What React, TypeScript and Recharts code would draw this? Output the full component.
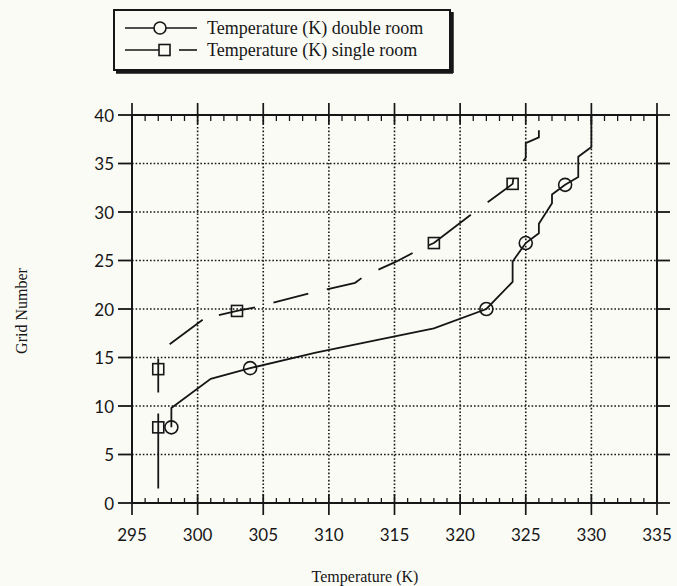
import React from 'react';
import { LineChart, Line, XAxis, YAxis, ReferenceLine, Legend } from 'recharts';

// ---- axes ----
const xTicks = [295, 296, 297, 298, 299, 300, 301, 302, 303, 304, 305, 306, 307, 308, 309, 310, 311, 312, 313, 314, 315, 316, 317, 318, 319, 320, 321, 322, 323, 324, 325, 326, 327, 328, 329, 330, 331, 332, 333, 334, 335];
const xMajor = [295, 300, 305, 310, 315, 320, 325, 330, 335];
const xGrid = [300, 305, 310, 315, 320, 325, 330];
const yTicks = [0, 5, 10, 15, 20, 25, 30, 35, 40];
const yGrid = [5, 10, 15, 20, 25, 30, 35];

// ---- series: Temperature (K) double room ----
const doubleTemp = [298, 298, 301, 304, 309, 314, 318, 322, 324, 324, 325, 326, 326, 327, 327, 328, 329, 329, 330, 330];
const doubleGrid = [7.8, 9.8, 12.8, 13.9, 15.5, 16.9, 18, 20, 22.8, 24.9, 26.8, 27.8, 28.8, 30.9, 31.8, 32.8, 33.6, 35.7, 36.7, 40];
const doubleMarkers = [0, 3, 7, 10, 15];

// ---- series: Temperature (K) single room ----
const singleTemp = [297, 297, 297, 297, 300.5, 303, 304.5, 308.5, 312, 312.7, 315, 317, 318, 321, 324, 324.1, 325, 325, 326, 326];
const singleGrid = [1.5, 7.8, 13.8, 15.5, 19, 19.8, 20.2, 21.6, 22.7, 23.4, 24.8, 26.2, 26.8, 29.9, 32.9, 33.9, 35.6, 37.1, 37.7, 39];
const singleMarkers = [1, 2, 5, 12, 14];

const seriesNames = ['Temperature (K) double room', 'Temperature (K) single room'];

const doubleData = doubleTemp.map((t, i) => ({ t, g: doubleGrid[i], m: doubleMarkers.includes(i) }));
const singleData = singleTemp.map((t, i) => ({ t, g: singleGrid[i], m: singleMarkers.includes(i) }));

const INK = '#161616';
const BG = '#fbfbf6';
const SANS = 'Lato, "Open Sans", sans-serif';
const SERIF = '"Liberation Serif", "Times New Roman", serif';

const BottomTick = (props: any) => {
  const { x, y, payload } = props;
  const v = payload.value;
  const major = xMajor.includes(v);
  return (
    <g>
      {major ? (
        <line x1={x} x2={x} y1={y - 9} y2={y + 12} stroke={INK} strokeWidth={1.7} />
      ) : (
        <line x1={x} x2={x} y1={y - 5} y2={y} stroke={INK} strokeWidth={1.3} />
      )}
      {major && (
        <text x={x} y={y + 31} textAnchor="middle" dominantBaseline="central" fontFamily={SANS} fontSize={17} fill={INK}>
          {v}
        </text>
      )}
    </g>
  );
};

const TopTick = (props: any) => {
  const { x, y, payload } = props;
  const major = xMajor.includes(payload.value);
  return major ? (
    <line x1={x} x2={x} y1={y - 12} y2={y + 9} stroke={INK} strokeWidth={1.7} />
  ) : (
    <line x1={x} x2={x} y1={y} y2={y + 6} stroke={INK} strokeWidth={1.3} />
  );
};

const LeftTick = (props: any) => {
  const { x, y, payload } = props;
  return (
    <g>
      <line x1={x - 14} x2={x} y1={y} y2={y} stroke={INK} strokeWidth={1.8} />
      <text x={x - 18} y={y} textAnchor="end" dominantBaseline="central" fontFamily={SANS} fontSize={17} fill={INK}>
        {payload.value}
      </text>
    </g>
  );
};

const RightTick = (props: any) => {
  const { x, y } = props;
  return <line x1={x} x2={x + 13} y1={y} y2={y} stroke={INK} strokeWidth={1.8} />;
};

const circleDot = (props: any) => {
  const { cx, cy, index, payload } = props;
  if (!payload || !payload.m) return <g key={`c${index}`} />;
  return <circle key={`c${index}`} cx={cx} cy={cy} r={6.5} fill="none" stroke={INK} strokeWidth={1.6} />;
};

const squareDot = (props: any) => {
  const { cx, cy, index, payload } = props;
  if (!payload || !payload.m) return <g key={`s${index}`} />;
  return <rect key={`s${index}`} x={cx - 5.5} y={cy - 5.5} width={11} height={11} fill="none" stroke={INK} strokeWidth={1.6} />;
};

const renderLegend = () => (
  <svg width={344} height={68} style={{ display: 'block', overflow: 'visible' }}>
    <rect x={1} y={1} width={336} height={60} fill={BG} stroke={INK} strokeWidth={2} />
    <line x1={339} y1={3} x2={339} y2={64} stroke={INK} strokeWidth={3.5} />
    <line x1={3} y1={63} x2={340} y2={63} stroke={INK} strokeWidth={3.5} />
    <line x1={12} x2={84} y1={19} y2={19} stroke={INK} strokeWidth={1.6} />
    <circle cx={47} cy={19} r={6} fill={BG} stroke={INK} strokeWidth={1.6} />
    <text x={94} y={19} dominantBaseline="central" fontFamily={SERIF} fontSize={18} fill={INK}>
      {seriesNames[0]}
    </text>
    <line x1={12} x2={46} y1={41} y2={41} stroke={INK} strokeWidth={1.6} />
    <rect x={46} y={35.5} width={11} height={11} fill={BG} stroke={INK} strokeWidth={1.6} />
    <line x1={66} x2={84} y1={41} y2={41} stroke={INK} strokeWidth={1.6} />
    <text x={94} y={41} dominantBaseline="central" fontFamily={SERIF} fontSize={18} fill={INK}>
      {seriesNames[1]}
    </text>
  </svg>
);

const xTitle = () => (
  <text x={365} y={582} textAnchor="middle" fontFamily={SERIF} fontSize={16} fill={INK}>
    Temperature (K)
  </text>
);

const yTitle = () => (
  <text x={27} y={311} transform="rotate(-90 27 311)" textAnchor="middle" fontFamily={SERIF} fontSize={16} fill={INK}>
    Grid Number
  </text>
);

export default function App() {
  return (
    <div style={{ position: 'absolute', left: 0, top: 0, width: 677, height: 586, background: BG }}>
      <LineChart width={677} height={586} margin={{ top: 114, right: 19, bottom: 82, left: 131 }}>
        <XAxis
          xAxisId="b"
          dataKey="t"
          type="number"
          domain={[295, 335]}
          allowDataOverflow
          ticks={xTicks}
          interval={0}
          height={1}
          tickSize={0}
          tickMargin={0}
          tickLine={false}
          axisLine={{ stroke: INK, strokeWidth: 2 }}
          tick={BottomTick}
          label={xTitle}
        />
        <XAxis
          xAxisId="t"
          orientation="top"
          dataKey="t"
          type="number"
          domain={[295, 335]}
          allowDataOverflow
          ticks={xTicks}
          interval={0}
          height={1}
          tickSize={0}
          tickMargin={0}
          tickLine={false}
          axisLine={{ stroke: INK, strokeWidth: 2 }}
          tick={TopTick}
        />
        <YAxis
          yAxisId="l"
          type="number"
          domain={[0, 40]}
          allowDataOverflow
          ticks={yTicks}
          interval={0}
          width={1}
          tickSize={0}
          tickMargin={0}
          tickLine={false}
          axisLine={{ stroke: INK, strokeWidth: 2 }}
          tick={LeftTick}
          label={yTitle}
        />
        <YAxis
          yAxisId="r"
          orientation="right"
          type="number"
          domain={[0, 40]}
          allowDataOverflow
          ticks={yTicks}
          interval={0}
          width={1}
          tickSize={0}
          tickMargin={0}
          tickLine={false}
          axisLine={{ stroke: INK, strokeWidth: 2 }}
          tick={RightTick}
        />
        {xGrid.map((v) => (
          <ReferenceLine key={`gx${v}`} x={v} xAxisId="b" yAxisId="l" stroke={INK} strokeWidth={1.6} strokeDasharray="1.6 2" />
        ))}
        {yGrid.map((v) => (
          <ReferenceLine key={`gy${v}`} y={v} xAxisId="b" yAxisId="l" stroke={INK} strokeWidth={1.6} strokeDasharray="1.6 2" />
        ))}
        <Legend
          layout="horizontal"
          verticalAlign="middle"
          align="center"
          content={renderLegend}
          wrapperStyle={{ position: 'absolute', left: 113, top: 9, width: 344, height: 68 }}
        />
        <Line
          name={seriesNames[0]}
          data={doubleData}
          dataKey="g"
          xAxisId="b"
          yAxisId="l"
          type="linear"
          stroke={INK}
          strokeWidth={1.8}
          dot={circleDot}
          activeDot={false}
          isAnimationActive={false}
        />
        <Line
          name={seriesNames[1]}
          data={singleData}
          dataKey="g"
          xAxisId="b"
          yAxisId="l"
          type="linear"
          stroke={INK}
          strokeWidth={1.8}
          strokeDasharray="75 21 34 20 41 17 37 19 36 19 37 19 38 18 52 21 37 20 40 20"
          dot={squareDot}
          activeDot={false}
          isAnimationActive={false}
        />
      </LineChart>
    </div>
  );
}
